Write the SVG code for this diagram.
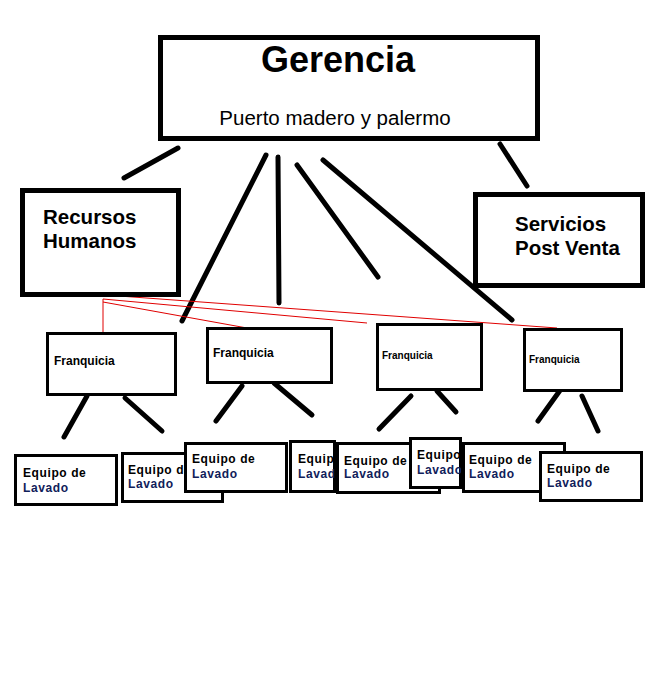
<svg xmlns="http://www.w3.org/2000/svg" width="654" height="674" viewBox="0 0 654 674">
<style>
.big{fill:#fff;stroke:#000;stroke-width:5}
.box{fill:#fff;stroke:#000;stroke-width:3}
.t{font-family:"Liberation Sans",Arial,sans-serif;fill:#000}
.b{font-weight:bold}
.eq{font-family:"Liberation Sans",Arial,sans-serif;font-weight:bold;font-size:12px;letter-spacing:0.6px;fill:#000}
.lv{fill:#10205a}
.k{stroke:#000;stroke-width:5;stroke-linecap:round;fill:none}
.r{stroke:#e00000;stroke-width:1;fill:none}
</style>
<defs>
<clipPath id="c2"><rect x="122" y="453" width="62" height="50"/></clipPath>
<clipPath id="c4"><rect x="290" y="441" width="45" height="52"/></clipPath>
<clipPath id="c6"><rect x="410" y="438" width="51" height="50"/></clipPath>
</defs>
<rect width="654" height="674" fill="#fff"/>
<g id="connectors">
<line class="k" x1="178" y1="148" x2="124" y2="178"/>
<line class="k" x1="266" y1="155" x2="182" y2="321"/>
<line class="k" x1="278" y1="157" x2="279" y2="303"/>
<line class="k" x1="297" y1="165" x2="378" y2="277"/>
<line class="k" x1="323" y1="160" x2="512" y2="320"/>
<line class="k" x1="500" y1="144" x2="527" y2="186"/>
<line class="r" x1="103" y1="299" x2="103" y2="334"/>
<line class="r" x1="119" y1="296" x2="557" y2="328"/>
<line class="r" x1="103" y1="299" x2="367" y2="323"/>
<line class="r" x1="103" y1="302" x2="247" y2="328"/>
<line class="k" x1="87" y1="396" x2="64" y2="437"/>
<line class="k" x1="125" y1="398" x2="162" y2="431"/>
<line class="k" x1="242" y1="386" x2="216" y2="421"/>
<line class="k" x1="274" y1="383" x2="312" y2="415"/>
<line class="k" x1="411" y1="396" x2="379" y2="429"/>
<line class="k" x1="437" y1="391" x2="456" y2="412"/>
<line class="k" x1="561" y1="389" x2="538" y2="421"/>
<line class="k" x1="582" y1="396" x2="598" y2="431"/>
</g>
<g id="gerencia">
<rect class="big" x="160.5" y="37.5" width="377" height="101"/>
<text class="t b" x="338" y="72" font-size="36" text-anchor="middle">Gerencia</text>
<text class="t" x="335" y="125" font-size="20.5" text-anchor="middle">Puerto madero y palermo</text>
</g>
<g id="recursos-humanos">
<rect class="big" x="22.5" y="190.5" width="156" height="104"/>
<text class="t b" x="43" y="224" font-size="20.5">Recursos</text>
<text class="t b" x="43" y="248" font-size="20.5">Humanos</text>
</g>
<g id="servicios-post-venta">
<rect class="big" x="475.5" y="194.5" width="167" height="91"/>
<text class="t b" x="515" y="231" font-size="20.5">Servicios</text>
<text class="t b" x="515" y="255" font-size="20.5">Post Venta</text>
</g>
<g id="franquicia-1">
<rect class="box" x="47.5" y="333.5" width="128" height="61"/>
<text class="t b" x="54" y="365" font-size="12">Franquicia</text>
</g>
<g id="franquicia-2">
<rect class="box" x="207.5" y="328.5" width="124" height="54"/>
<text class="t b" x="213" y="357" font-size="12">Franquicia</text>
</g>
<g id="franquicia-3">
<rect class="box" x="377.5" y="324.5" width="104" height="65"/>
<text class="t b" x="382" y="359" font-size="10">Franquicia</text>
</g>
<g id="franquicia-4">
<rect class="box" x="524.5" y="329.5" width="97" height="61"/>
<text class="t b" x="529" y="363" font-size="10">Franquicia</text>
</g>
<g id="equipo-1">
<rect class="box" x="15.5" y="455.5" width="101" height="49"/>
<text class="eq" x="23" y="477">Equipo de</text>
<text class="eq lv" x="23" y="492">Lavado</text>
</g>
<g id="equipo-2">
<rect class="box" x="122.5" y="453.5" width="100" height="48"/>
<g clip-path="url(#c2)">
<text class="eq" x="128" y="474">Equipo de</text>
<text class="eq lv" x="128" y="488">Lavado</text>
</g>
</g>
<g id="equipo-3">
<rect class="box" x="185.5" y="443.5" width="101" height="48"/>
<text class="eq" x="192" y="463">Equipo de</text>
<text class="eq lv" x="192" y="478">Lavado</text>
</g>
<g id="equipo-4">
<rect class="box" x="290.5" y="441.5" width="44" height="50"/>
<g clip-path="url(#c4)">
<text class="eq" x="298" y="463">Equip</text>
<text class="eq lv" x="298" y="478">Lavad</text>
</g>
</g>
<g id="equipo-5">
<rect class="box" x="337.5" y="443.5" width="102" height="49"/>
<text class="eq" x="344" y="465">Equipo de</text>
<text class="eq lv" x="344" y="478">Lavado</text>
</g>
<g id="equipo-6">
<rect class="box" x="410.5" y="438.5" width="50" height="49"/>
<g clip-path="url(#c6)">
<text class="eq" x="417" y="459">Equipo</text>
<text class="eq lv" x="417" y="474">Lavado</text>
</g>
</g>
<g id="equipo-7">
<rect class="box" x="463.5" y="443.5" width="101" height="48"/>
<text class="eq" x="469" y="464">Equipo de</text>
<text class="eq lv" x="469" y="478">Lavado</text>
</g>
<g id="equipo-8">
<rect class="box" x="540.5" y="452.5" width="101" height="48"/>
<text class="eq" x="547" y="473">Equipo de</text>
<text class="eq lv" x="547" y="487">Lavado</text>
</g>
</svg>
